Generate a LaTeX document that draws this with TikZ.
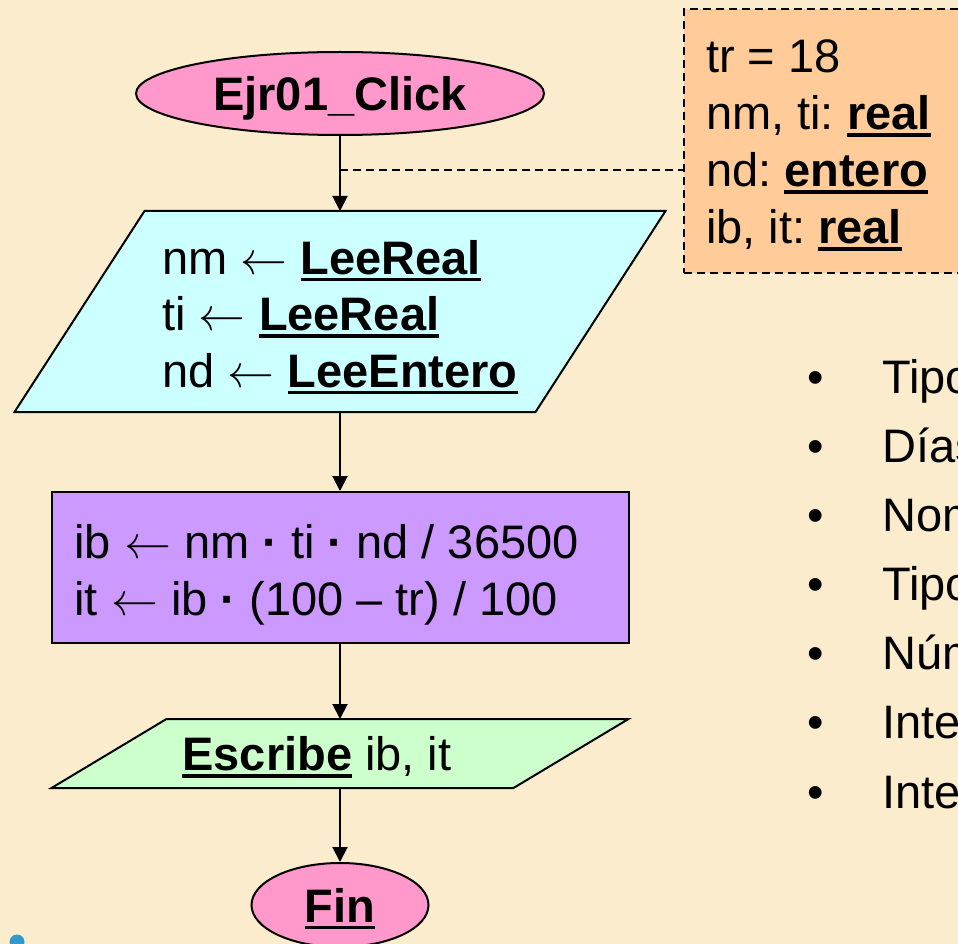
\documentclass[tikz,border=0pt]{standalone}
\usepackage{fontspec}
\usepackage{unicode-math}
\setmainfont{Liberation Sans}
\usetikzlibrary{shapes.geometric,arrows.meta}

\definecolor{paper}{HTML}{FBECCE}
\definecolor{termpink}{HTML}{FF99CC}
\definecolor{notepeach}{HTML}{FFCC99}
\definecolor{incyan}{HTML}{CCFFFF}
\definecolor{procviolet}{HTML}{CC99FF}
\definecolor{outgreen}{HTML}{CCFFCC}
\definecolor{dotblue}{HTML}{3399CC}

\pgfdeclarelayer{back}
\pgfsetlayers{back,main}

% large text with the font's own word spacing
\newcommand{\bigfont}{\fontsize{47}{57}\selectfont}
\newcommand{\plainspaces}{\frenchspacing\spaceskip=0pt\xspaceskip=0pt\relax}
% thick underline a little below the baseline
\newcommand{\undl}[1]{\setbox0\hbox{#1}\leavevmode\rlap{\rule[-7pt]{\wd0}{3.5pt}}\box0\relax}
\newcommand{\getsarrow}{$\leftarrow$}

\begin{document}
\begin{tikzpicture}[x=1pt,y=-1pt,
  font=\bigfont,
  term/.style={ellipse, draw, line width=2pt, fill=termpink, inner sep=0pt,
    text height=34pt, text depth=0pt, font=\bigfont\bfseries},
  ioframe/.style={rectangle, draw=none, inner sep=0pt, outer sep=0pt},
  ioshape/.style={draw, line width=2pt, line join=miter},
  procbox/.style={rectangle, draw, line width=2pt, fill=procviolet,
    inner xsep=23pt, inner ysep=0pt, text width=531pt, align=left,
    minimum width=577pt, minimum height=151pt},
  notebox/.style={rectangle, draw, line width=1.5pt, fill=notepeach,
    dash pattern=on 8pt off 5pt, inner xsep=22pt, inner ysep=0pt,
    text width=234pt, align=left, minimum width=278pt, minimum height=264pt},
  flow/.style={line width=2pt, -{Triangle[length=15pt,width=15pt]}},
  aside/.style={line width=1.5pt, dash pattern=on 8pt off 5pt},
  bullet/.style={anchor=base, inner sep=0pt},
  itemtext/.style={anchor=base west, inner sep=0pt}]

\useasboundingbox (0,0) rectangle (958,944);
\begin{pgfonlayer}{back}
  \fill[paper] (0,0) rectangle (958,944);
\end{pgfonlayer}

\begin{scope}
\clip (0,0) rectangle (958,944);

% start terminal
\node[term, minimum width=408pt, minimum height=83pt] (start) at (340,93.5) {Ejr01\_Click};

% declarations note
\node[notebox] (note) at (823,141)
  {\plainspaces\rule{0pt}{42pt}tr = 18\\
   nm, ti: \undl{\textbf{real}}\\
   nd: \undl{\textbf{entero}}\\
   ib, it: \undl{\textbf{real}}};

% input
\node[ioframe, minimum width=651pt, minimum height=201pt, align=left,
      font=\fontsize{47}{56.5}\selectfont] (in) at (340,311.5)
  {\plainspaces\rule{0pt}{45pt}nm \getsarrow{} \undl{\textbf{LeeReal}}\\
   ti \getsarrow{} \undl{\textbf{LeeReal}}\\
   nd \getsarrow{} \undl{\textbf{LeeEntero}}};
\begin{pgfonlayer}{back}
  \draw[ioshape, fill=incyan] ([xshift=130pt]in.north west) -- (in.north east)
    -- ([xshift=-130pt]in.south east) -- (in.south west) -- cycle;
\end{pgfonlayer}

% process
\node[procbox] (proc) at (340,567.5)
  {\plainspaces\rule{0pt}{48pt}ib \getsarrow{} nm \textbf{·} ti \textbf{·} nd / 36500\\
   it \getsarrow{} ib \textbf{·} (100 – tr) / 100};

% output (text sits a little left of the centre)
\node[ioframe, minimum width=577pt, minimum height=69pt, text height=34pt, text depth=0pt]
  (out) at (340,753.5) {\undl{\textbf{Escribe}} ib, it\hbox to 46pt{}};
\begin{pgfonlayer}{back}
  \draw[ioshape, fill=outgreen] ([xshift=115pt]out.north west) -- (out.north east)
    -- ([xshift=-115pt]out.south east) -- (out.south west) -- cycle;
\end{pgfonlayer}

% end terminal
\node[term, minimum width=177pt, minimum height=84pt] (fin) at (340,905) {\undl{Fin}};

% connectors
\draw[flow] (start) -- (in);
\draw[flow] (in) -- (proc);
\draw[flow] (proc) -- (out);
\draw[flow] (out) -- (fin);
\coordinate (tap) at (340,170);
\draw[aside] (tap) -- (tap -| note.west);

% variable list
\foreach \i/\yy/\txt in {1/393/Tipo de retención, 2/462/Días, 3/531/Nominal,
    4/600/Tipo de interés, 5/669/Número de días, 6/738/Interés bruto, 7/808/Interés total}{
  \node[bullet] (bul\i) at (816,\yy) {•};
  \node[itemtext] (item\i) at (882,\yy) {\txt};
}

% corner mark
\fill[dotblue] (17,942) circle (7.5);
\end{scope}
\end{tikzpicture}
\end{document}
